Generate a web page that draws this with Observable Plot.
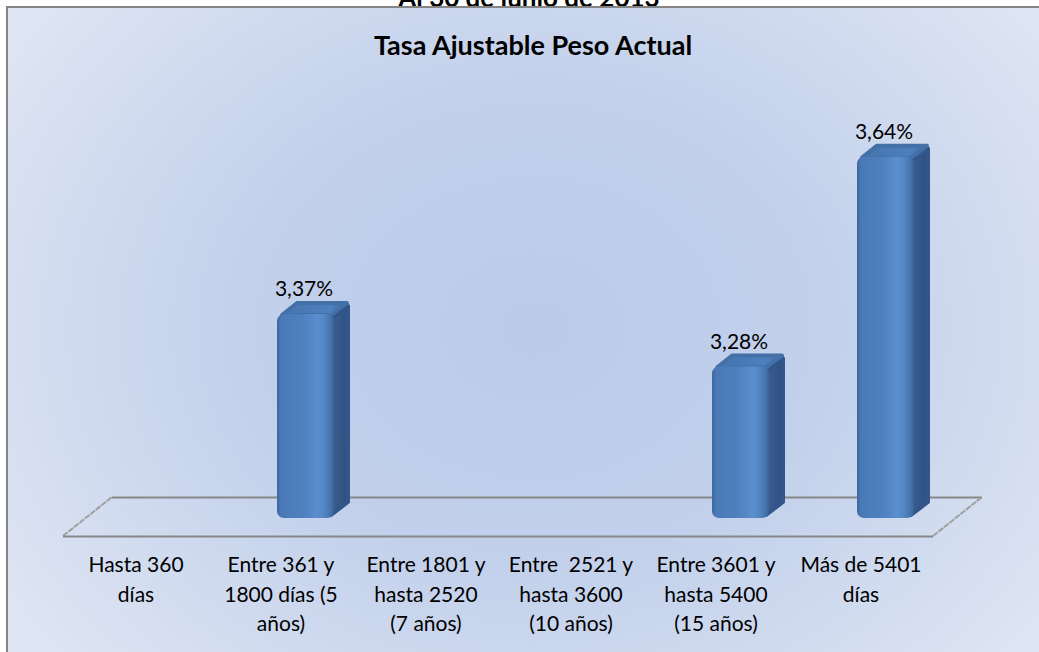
<!DOCTYPE html>
<html>
<head>
<meta charset="utf-8">
<script src="https://cdn.jsdelivr.net/npm/d3@7"></script>
<script src="https://cdn.jsdelivr.net/npm/@observablehq/plot@0.6"></script>
<style>
  html, body { margin: 0; padding: 0; background: #ffffff; width: 1039px; height: 652px; overflow: hidden; }
  #supertitle { position: absolute; left: 0; width: 1058px; top: -18px; text-align: center;
    font: bold 26px Lato, sans-serif; line-height: 1.2; color: #000; }
  #frame { position: absolute; left: 6px; top: 6px; width: 1100px; height: 720px;
    border-left: 2px solid #858585; border-top: 2px solid #858585;
    background: radial-gradient(ellipse 640px 520px at 526px 320px, #bacbe9 0%, #c2d0eb 45%, #dfe6f3 100%); }
  #title { position: absolute; left: 0; width: 1066px; top: 29px; text-align: center;
    font: bold 27px Lato, sans-serif; line-height: 1.2; color: #000; }
  #chart { position: absolute; left: 0; top: 0; }
  #chart svg { background: transparent !important; }
</style>
</head>
<body>
<div id="supertitle">Al 30 de junio de 2013</div>
<div id="frame"></div>
<div id="title">Tasa Ajustable Peso Actual</div>
<div id="chart"></div>
<script>
// ---- data ----
const categories = [
  "Hasta 360 días",
  "Entre 361 y 1800 días (5 años)",
  "Entre 1801 y hasta 2520 (7 años)",
  "Entre  2521 y hasta 3600 (10 años)",
  "Entre 3601 y hasta 5400 (15 años)",
  "Más de 5401 días"
];
const tickLabels = [
  "Hasta 360\ndías",
  "Entre 361 y\n1800 días (5\naños)",
  "Entre 1801 y\nhasta 2520\n(7 años)",
  "Entre  2521 y\nhasta 3600\n(10 años)",
  "Entre 3601 y\nhasta 5400\n(15 años)",
  "Más de 5401\ndías"
];
const values = [null, 3.37, null, null, 3.28, 3.64];

// ---- scale settings / styling ----
const yDomain = [3.02, 3.72];
const floorValue = yDomain[0];
const FLOOR_DX = 49, FLOOR_DY = 39;     // floor depth
const BAR_DX = 25, BAR_DY = 18;         // bars sit mid-depth
const SIDE_DX = 16, SIDE_DY = 13;       // bar thickness
const INSET = 44;

const data = categories.map((c, i) => ({cat: c, value: values[i], label: tickLabels[i]}))
  .filter(d => d.value != null);
const fmt = v => d3.format(".2f")(v).replace(".", ",") + "%";

function defsMark() {
  const defs = d3.create("svg:defs");
  const fg = defs.append("linearGradient").attr("id", "frontGrad").attr("x1", 0).attr("x2", 1).attr("y1", 0).attr("y2", 0);
  [[0, "#3b679c"], [0.07, "#4a79b6"], [0.45, "#4f80be"], [0.7, "#5a8ecf"], [0.8, "#5489c8"], [0.93, "#4675ae"], [1, "#3a6497"]]
    .forEach(([o, c]) => fg.append("stop").attr("offset", o).attr("stop-color", c));
  const sg = defs.append("linearGradient").attr("id", "sideGrad").attr("x1", 0).attr("x2", 1).attr("y1", 0).attr("y2", 0);
  [[0, "#3a5f90"], [1, "#2f5080"]].forEach(([o, c]) => sg.append("stop").attr("offset", o).attr("stop-color", c));
  const tg = defs.append("linearGradient").attr("id", "topGrad").attr("x1", 0).attr("x2", 1).attr("y1", 0).attr("y2", 0);
  [[0, "#4674ad"], [0.75, "#4d7fbd"], [1, "#3f6aa0"]].forEach(([o, c]) => tg.append("stop").attr("offset", o).attr("stop-color", c));
  return defs.node();
}

function floorSides(index, scales, values, dimensions) {
  const {width, marginLeft, marginRight} = dimensions;
  const y0 = scales.y(floorValue);
  const g = d3.create("svg:g").attr("stroke", "#a0a0a0").attr("stroke-width", 2).attr("stroke-dasharray", "6,1");
  [marginLeft, width - marginRight].forEach(x => {
    g.append("line").attr("x1", x).attr("y1", y0).attr("x2", x + FLOOR_DX).attr("y2", y0 - FLOOR_DY);
  });
  return g.node();
}

function barDepth(index, scales) {
  const x = scales.x, y = scales.y, bw = x.bandwidth();
  const g = d3.create("svg:g").attr("stroke-linejoin", "round");
  for (const d of data) {
    const x0 = x(d.cat) + INSET + BAR_DX, x1 = x(d.cat) + bw - INSET + BAR_DX;
    const yt = y(d.value) - BAR_DY, yb = y(floorValue) - BAR_DY;
    g.append("path")
      .attr("d", `M${x1 - 3},${yt + 4}L${x1 + SIDE_DX - 2},${yt - SIDE_DY + 5}L${x1 + SIDE_DX - 2},${yb - SIDE_DY - 3}L${x1 - 3},${yb - 3}Z`)
      .attr("fill", "url(#sideGrad)").attr("stroke", "#33568a").attr("stroke-width", 4);
    g.append("path")
      .attr("d", `M${x0 + 5},${yt + 1}L${x0 + SIDE_DX + 4},${yt - SIDE_DY + 2}L${x1 + SIDE_DX - 3},${yt - SIDE_DY + 2}L${x1 - 3},${yt + 1}Z`)
      .attr("fill", "url(#topGrad)").attr("stroke", "#4470a8").attr("stroke-width", 4);
  }
  return g.node();
}

const plot = Plot.plot({
  width: 1039,
  height: 652,
  marginLeft: 63,
  marginRight: 106,
  marginTop: 128,
  marginBottom: 116,
  style: {background: "transparent", fontFamily: "Lato, sans-serif", overflow: "visible", color: "#000"},
  x: {domain: categories, padding: 0, axis: null, label: null},
  y: {domain: yDomain, axis: null},
  marks: [
    defsMark,
    Plot.ruleY([floorValue], {dx: FLOOR_DX, dy: -FLOOR_DY, stroke: "#878787", strokeWidth: 2}),
    floorSides,
    Plot.ruleY([floorValue], {stroke: "#878787", strokeWidth: 2}),
    barDepth,
    Plot.barY(data, {x: "cat", y1: floorValue, y2: "value", insetLeft: INSET, insetRight: INSET,
      dx: BAR_DX, dy: -BAR_DY, rx: 7, fill: "url(#frontGrad)"}),
    Plot.text(data, {x: "cat", y: "value", text: d => fmt(d.value), dx: 23, dy: -43, fontSize: 21, fill: "#000"}),
    Plot.axisX({tickSize: 0, tickPadding: 15, fontSize: 21, lineHeight: 1.4, fill: "#000", label: null,
      tickFormat: d => tickLabels[categories.indexOf(d)]})
  ]
});
document.getElementById("chart").appendChild(plot);
</script>
</body>
</html>
